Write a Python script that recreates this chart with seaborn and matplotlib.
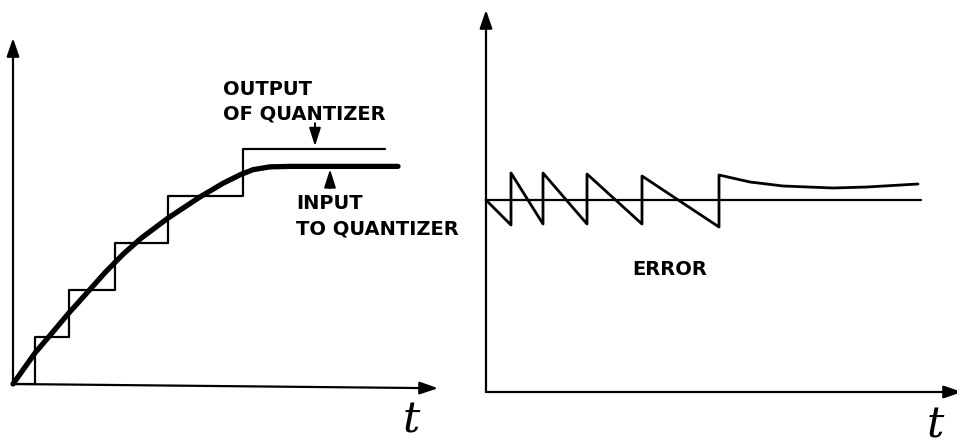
import matplotlib
matplotlib.use("Agg")
import matplotlib.pyplot as plt
import numpy as np
import pandas as pd
import seaborn as sns

# left panel: time in px from the origin, value in quantization steps
step_t = [0, 22, 56, 102, 155, 230, 372]
step_q = [0, 1, 2, 3, 4, 5, 5]

input_t = [0, 22, 40, 55, 74, 92, 110, 128, 155, 187, 210, 227, 240, 257, 277, 385]
input_q = [0, 0.66, 1.11, 1.49, 1.94, 2.37, 2.76, 3.1, 3.53, 3.98, 4.27, 4.45,
           4.56, 4.62, 4.63, 4.63]

# right panel: quantization error
err_t = [0, 25, 25, 57, 57, 101, 101, 156, 156, 233, 233, 264, 297, 347, 381, 432]
err_e = [0, -0.5, 0.54, -0.48, 0.54, -0.48, 0.52, -0.48, 0.48, -0.54, 0.5,
         0.36, 0.28, 0.24, 0.26, 0.32]

zero_t = [0, 435]
zero_e = [0, 0]

sns.set_style("white")

fig = plt.figure(figsize=(9.57, 4.46), dpi=100)
axL = fig.add_axes([0, 0, 478 / 957, 1])
axR = fig.add_axes([478 / 957, 0, 1 - 478 / 957, 1])

axL.set_xlim(-13, 465)
axL.set_ylim((384 - 446) / 47, 384 / 47)
axR.set_xlim(-8, 471)
axR.set_ylim((200 - 446) / 50, 200 / 50)

axis_arrow = dict(arrowstyle="-|>,head_length=1.1,head_width=0.38", lw=1.6,
                  color="black", shrinkA=0, shrinkB=0, mutation_scale=10)
label_kw = dict(fontsize=14, fontweight="bold", color="black")
t_kw = dict(ha="center", va="center", fontsize=31, color="black",
            family="DejaVu Serif", style="italic")

# left axes
axL.annotate("", xy=(0, 7.36), xytext=(0, 0), arrowprops=axis_arrow)
axL.annotate("", xy=(425, -0.09), xytext=(0, 0), arrowprops=axis_arrow)

df_step = pd.DataFrame({"t": step_t, "q": step_q})
sns.lineplot(data=df_step, x="t", y="q", ax=axL, color="black", lw=1.6,
             drawstyle="steps-post", estimator=None, sort=False)
df_in = pd.DataFrame({"t": input_t, "q": input_q})
sns.lineplot(data=df_in, x="t", y="q", ax=axL, color="black", lw=3.8,
             estimator=None, sort=False)

ptr = dict(arrowstyle="-|>,head_length=1.1,head_width=0.35", lw=1.4,
           color="black", shrinkA=0, shrinkB=0, mutation_scale=10)
axL.annotate("", xy=(302, 5.06), xytext=(302, 5.55), arrowprops=ptr)
axL.annotate("", xy=(317, 4.57), xytext=(317, 4.17), arrowprops=ptr)

axL.text(210, 6.47, "OUTPUT\nOF QUANTIZER", ha="left", va="top",
         linespacing=1.4, **label_kw)
axL.text(283, 4.04, "INPUT\nTO QUANTIZER", ha="left", va="top",
         linespacing=1.4, **label_kw)
axL.text(398, -0.77, "t", **t_kw)

# right axes
axR.annotate("", xy=(0, 3.8), xytext=(0, -3.84), arrowprops=axis_arrow)
axR.annotate("", xy=(476, -3.84), xytext=(0, -3.84), arrowprops=axis_arrow,
             annotation_clip=False)

df_zero = pd.DataFrame({"t": zero_t, "e": zero_e})
sns.lineplot(data=df_zero, x="t", y="e", ax=axR, color="black", lw=1.6,
             estimator=None, sort=False)
df_err = pd.DataFrame({"t": err_t, "e": err_e})
sns.lineplot(data=df_err, x="t", y="e", ax=axR, color="black", lw=2.0,
             estimator=None, sort=False)

axR.text(146, -1.2, "ERROR", ha="left", va="top", **label_kw)
axR.text(449, -4.5, "t", **t_kw)

for ax in (axL, axR):
    ax.axis("off")

fig.savefig("out.png", dpi=100)
